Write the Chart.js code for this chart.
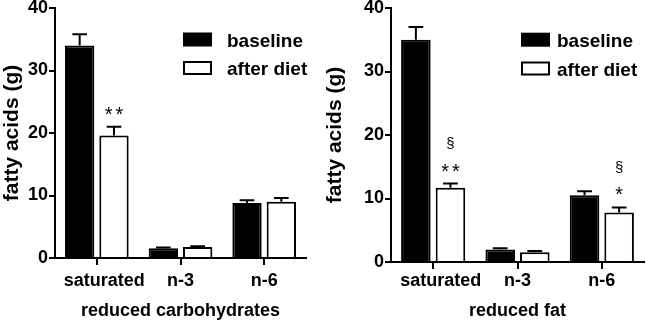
<!DOCTYPE html>
<html><head><meta charset="utf-8">
<script src="https://cdn.jsdelivr.net/npm/chart.js@4"></script>
<style>
html,body{margin:0;padding:0;background:#fff;}
#wrap{position:relative;width:646px;height:322px;overflow:hidden;}
.panel{position:absolute;top:0;width:323px;height:322px;}
#p1{left:0;} #p2{left:323px;}
canvas{display:block;}
</style></head><body>
<div id="wrap">
<div class="panel" id="p1"><canvas id="c1" width="323" height="322"></canvas></div>
<div class="panel" id="p2"><canvas id="c2" width="323" height="322"></canvas></div>
</div>
<script>
const categories = ['saturated', 'n-3', 'n-6'];
const seriesNames = ['baseline', 'after diet'];
const yTicks = [0, 10, 20, 30, 40];
const yTitle = 'fatty acids (g)';

const carbTitle = 'reduced carbohydrates';
const carbBaseline = [34.0, 1.55, 8.8];
const carbBaselineErr = [1.8, 0.15, 0.45];
const carbAfter = [19.6, 1.75, 9.0];
const carbAfterErr = [1.4, 0.15, 0.6];
const carbAfterStars = ['**', '', ''];
const carbAfterSect = ['', '', ''];

const fatTitle = 'reduced fat';
const fatBaseline = [35.0, 1.95, 10.5];
const fatBaselineErr = [2.0, 0.2, 0.65];
const fatAfter = [11.7, 1.55, 7.8];
const fatAfterErr = [0.65, 0.2, 0.8];
const fatAfterStars = ['**', '', '*'];
const fatAfterSect = ['\u00a7', '', '\u00a7'];

const FONT = "'Liberation Sans', Arial, Helvetica, sans-serif";

const extras = {
  id: 'extras',
  afterDatasetsDraw(chart, args, opts) {
    const ctx = chart.ctx, ys = chart.scales.y;
    ctx.save();
    chart.data.datasets.forEach((ds, di) => {
      const meta = chart.getDatasetMeta(di);
      meta.data.forEach((bar, i) => {
        const v = ds.data[i], e = ds.errors[i];
        const top = ys.getPixelForValue(v), cap = ys.getPixelForValue(v + e);
        const half = bar.width * 0.25;
        ctx.strokeStyle = '#000'; ctx.lineWidth = 2;
        ctx.beginPath();
        ctx.moveTo(bar.x, top); ctx.lineTo(bar.x, cap);
        ctx.moveTo(bar.x - half, cap); ctx.lineTo(bar.x + half, cap);
        ctx.stroke();
        ctx.fillStyle = '#000'; ctx.textAlign = 'center'; ctx.textBaseline = 'alphabetic';
        if (ds.stars && ds.stars[i]) {
          ctx.font = '20px ' + FONT;
          ctx.letterSpacing = '3px';
          ctx.fillText(ds.stars[i], bar.x + 1.5, cap - 6);
          ctx.letterSpacing = '0px';
        }
        if (ds.sect && ds.sect[i]) {
          ctx.font = '15px ' + FONT;
          ctx.fillText(ds.sect[i], bar.x, cap - 35.5);
        }
      });
    });
    ctx.restore();
  },
  afterDraw(chart, args, opts) {
    const ctx = chart.ctx, ca = chart.chartArea;
    ctx.save();
    chart.data.datasets.forEach((ds, di) => {
      const x = ca.left + opts.legendX, y = opts.legendY[di];
      const w = 29, h = 14;
      if (ds.backgroundColor === '#000') {
        ctx.fillStyle = '#000'; ctx.fillRect(x, y, w, h);
      } else {
        ctx.fillStyle = '#fff'; ctx.fillRect(x, y, w, h);
        ctx.strokeStyle = '#000'; ctx.lineWidth = 2; ctx.strokeRect(x + 1, y + 1, w - 2, h - 2);
      }
      ctx.fillStyle = '#000';
      ctx.font = 'bold 19px ' + FONT;
      ctx.textAlign = 'left'; ctx.textBaseline = 'alphabetic';
      ctx.fillText(ds.label, x + w + opts.gap, y + h);
    });
    ctx.restore();
  }
};

function makeChart(id, base, baseErr, after, afterErr, stars, sect, xTitle, lay) {
  return new Chart(document.getElementById(id), {
    type: 'bar',
    data: {
      labels: categories,
      datasets: [
        { label: seriesNames[0], data: base, errors: baseErr, backgroundColor: '#000', borderColor: '#000', borderWidth: 2, categoryPercentage: 0.82, barPercentage: 0.855 },
        { label: seriesNames[1], data: after, errors: afterErr, stars: stars, sect: sect, backgroundColor: '#fff', borderColor: '#000', borderWidth: 2, categoryPercentage: 0.82, barPercentage: 0.855 }
      ]
    },
    options: {
      responsive: false, animation: false, devicePixelRatio: 1,
      layout: { padding: { top: 8, right: lay.right, left: 0, bottom: 0 } },
      plugins: { legend: { display: false }, tooltip: { enabled: false }, extras: { legendX: lay.legendX, legendY: lay.legendY, gap: lay.gap } },
      scales: {
        x: {
          offset: true,
          grid: { offset: false, drawOnChartArea: false, drawTicks: true, tickLength: 7, color: '#000', lineWidth: 2 },
          border: { display: true, color: '#000', width: 2 },
          ticks: { color: '#000', font: { family: FONT, size: 18, weight: 'bold' }, padding: lay.xPad, maxRotation: 0, autoSkip: false,
            callback: function (value, index) { const l = this.getLabelForValue(value); return index === 0 ? '   ' + l : l; } },
          title: { display: true, text: xTitle, color: '#000', font: { family: FONT, size: 18, weight: 'bold' }, padding: 0 },
          afterFit(s) { s.height = lay.xH; s.paddingLeft = 0; s.paddingRight = 0; }
        },
        y: {
          min: 0, max: 40,
          afterBuildTicks(s) { s.ticks = yTicks.map(v => ({ value: v })); },
          grid: { drawOnChartArea: false, drawTicks: true, tickLength: 6, color: '#000', lineWidth: 2 },
          border: { display: true, color: '#000', width: 2 },
          ticks: { color: '#000', font: { family: FONT, size: 18, weight: 'bold' }, padding: 1 },
          title: { display: true, text: yTitle, color: '#000', font: { family: FONT, size: 21, weight: 'bold' }, padding: 0 },
          afterFit(s) { s.width = lay.yW; s.paddingTop = 0; s.paddingBottom = 0; }
        }
      }
    },
    plugins: [extras]
  });
}

makeChart('c1', carbBaseline, carbBaselineErr, carbAfter, carbAfterErr, carbAfterStars, carbAfterSect, carbTitle,
  { right: 17, yW: 55, xH: 64, xPad: 5, legendX: 128, legendY: [32.5, 61], gap: 15 });
makeChart('c2', fatBaseline, fatBaselineErr, fatAfter, fatAfterErr, fatAfterStars, fatAfterSect, fatTitle,
  { right: 2, yW: 68, xH: 60, xPad: 1, legendX: 130, legendY: [32.7, 61.5], gap: 7 });
</script>
</body></html>
